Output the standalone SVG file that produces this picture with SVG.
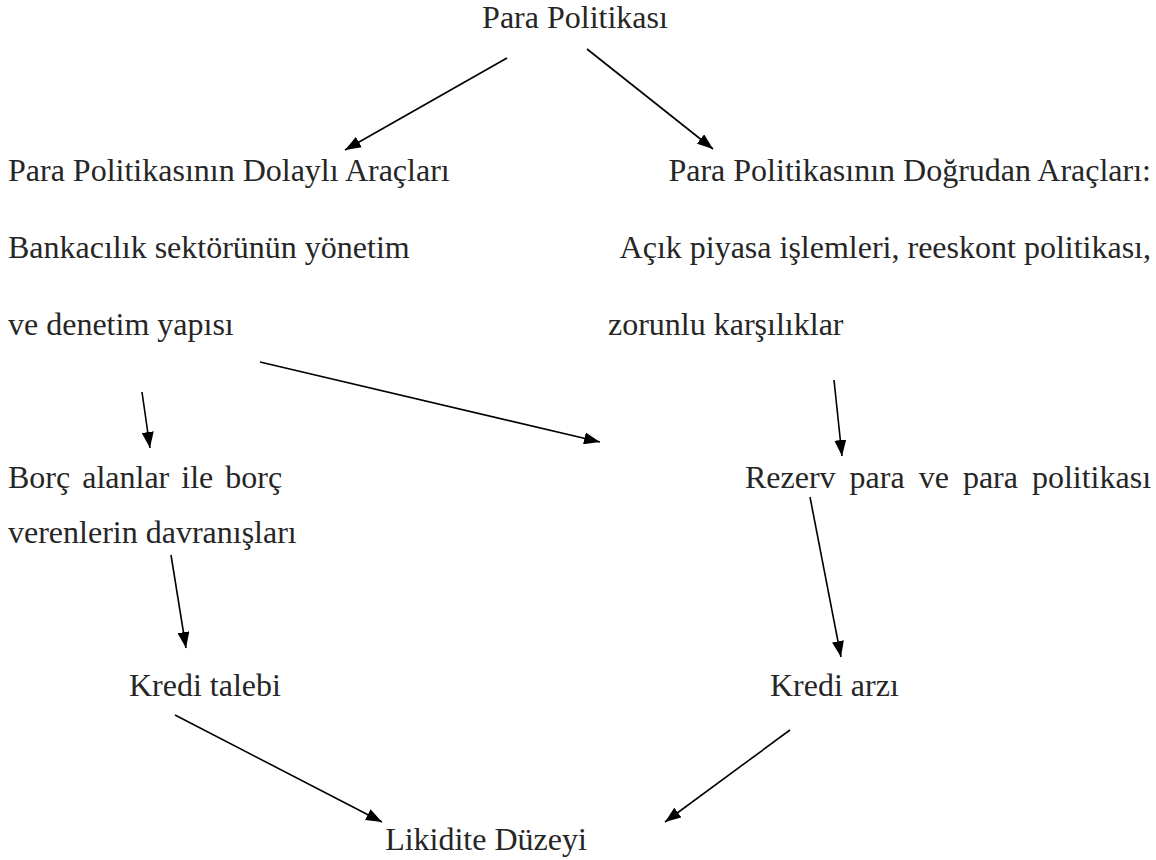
<svg xmlns="http://www.w3.org/2000/svg" width="1156" height="860" viewBox="0 0 1156 860">
<defs>
<marker id="ah" viewBox="0 0 16 12" refX="16" refY="6" markerWidth="16" markerHeight="12" markerUnits="userSpaceOnUse" orient="auto">
<path d="M0,0 L16,6 L0,12 z" fill="#000"/>
</marker>
<style>
text{font-family:"Liberation Serif","Times New Roman",serif;font-size:32px;fill:#262626}
.c{stroke:#000;stroke-width:1.6;fill:none;marker-end:url(#ah)}
</style>
</defs>
<rect width="1156" height="860" fill="#fff"/>
<g id="n-para"><text x="575" y="28" text-anchor="middle">Para Politikası</text></g>
<g id="n-dolayli">
<text x="8" y="181">Para Politikasının Dolaylı Araçları</text>
<text x="8" y="258">Bankacılık sektörünün yönetim</text>
<text x="8" y="335">ve denetim yapısı</text>
</g>
<g id="n-dogrudan">
<text x="1151" y="181" text-anchor="end">Para Politikasının Doğrudan Araçları:</text>
<text x="1151" y="258" text-anchor="end">Açık piyasa işlemleri, reeskont politikası,</text>
<text x="608" y="335">zorunlu karşılıklar</text>
</g>
<g id="n-borc">
<text x="8" y="488" style="word-spacing:4px">Borç alanlar ile borç</text>
<text x="8" y="543">verenlerin davranışları</text>
</g>
<g id="n-rezerv"><text x="745" y="488" style="word-spacing:6px">Rezerv para ve para politikası</text></g>
<g id="n-talep"><text x="129" y="696">Kredi talebi</text></g>
<g id="n-arz"><text x="770" y="696">Kredi arzı</text></g>
<g id="n-likidite"><text x="486" y="850" text-anchor="middle">Likidite Düzeyi</text></g>
<g id="connectors">
<line class="c" x1="507" y1="58" x2="345" y2="150"/>
<line class="c" x1="587" y1="49" x2="713" y2="149"/>
<line class="c" x1="142" y1="392" x2="150" y2="448"/>
<line class="c" x1="260" y1="362" x2="600" y2="442"/>
<line class="c" x1="834" y1="380" x2="842" y2="456"/>
<line class="c" x1="810" y1="497" x2="841" y2="657"/>
<line class="c" x1="171" y1="555" x2="186" y2="648"/>
<line class="c" x1="175" y1="715" x2="382" y2="822"/>
<line class="c" x1="790" y1="730" x2="665" y2="822"/>
</g>
</svg>
